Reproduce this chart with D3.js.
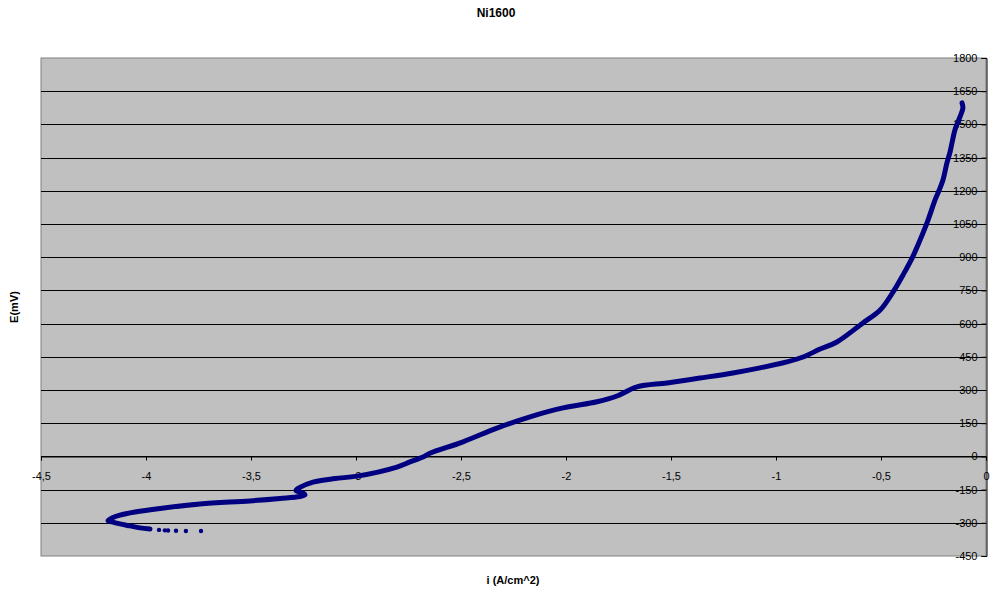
<!DOCTYPE html>
<html>
<head>
<meta charset="utf-8">
<script src="https://cdn.jsdelivr.net/npm/d3@7"></script>
<style>
  body { margin: 0; background: #ffffff; }
  svg { font-family: "Liberation Sans", Arial, sans-serif; }
</style>
</head>
<body>
<div id="chart"></div>
<script>
// current density (log) and potential readings, dense part of the sweep
const curI = [-3.981, -4.029, -4.076, -4.124, -4.162, -4.181, -4.162, -4.124, -4.052, -3.933,
    -3.743, -3.505, -3.362, -3.267, -3.243, -3.252, -3.286, -3.267, -3.205, -3.1,
    -2.995, -2.805, -2.743, -2.681, -2.648, -2.49, -2.329, -2.171, -2.014, -1.852,
    -1.757, -1.662, -1.519, -1.362, -1.205, -1.076, -0.948, -0.871, -0.79, -0.71,
    -0.586, -0.505, -0.443, -0.395, -0.352, -0.314, -0.276, -0.243, -0.222, -0.205,
    -0.186, -0.171, -0.162, -0.148, -0.124, -0.11, -0.114];
const curE = [-328, -323, -314, -305, -296, -290, -278, -265, -251, -235,
    -215, -201, -190, -181, -174, -165, -154, -140, -116, -100,
    -89, -48, -25, -3, 14, 66, 128, 179, 219, 247,
    273, 314, 332, 354, 377, 400, 427, 449, 485, 517,
    603, 660, 742, 820, 896, 978, 1068, 1158, 1205, 1249,
    1326, 1376, 1416, 1475, 1534, 1574, 1597];

// the sparse start of the sweep (separate dots)
const tailI = [-3.738, -3.81, -3.857, -3.895, -3.91, -3.938];
const tailE = [-337, -337, -336, -335, -334, -332];

const xTicks = [-4.5, -4, -3.5, -3, -2.5, -2, -1.5, -1, -0.5, 0];
const yTicks = [-450, -300, -150, 0, 150, 300, 450, 600, 750, 900, 1050, 1200, 1350, 1500, 1650, 1800];

const width = 992;
const height = 596;
const margin = { top: 58, right: 6, bottom: 40, left: 41 };

const svg = d3.select("#chart")
    .append("svg")
    .attr("width", width)
    .attr("height", height);

const xScale = d3.scaleLinear()
    .domain([-4.5, 0])
    .range([margin.left, width - margin.right]);

const yScale = d3.scaleLinear()
    .domain([-450, 1800])
    .range([height - margin.bottom, margin.top]);

//plot background
svg.append("rect")
    .attr("x", xScale(-4.5))
    .attr("y", yScale(1800))
    .attr("width", xScale(0) - xScale(-4.5))
    .attr("height", yScale(-450) - yScale(1800))
    .attr("fill", "#c0c0c0")
    .attr("stroke", "#808080")
    .attr("stroke-width", 1);

//gridlines
svg.append("g")
    .selectAll("line")
    .data(yTicks.filter(function(d) { return d > -450 && d < 1800; }))
    .enter()
    .append("line")
    .attr("x1", xScale(-4.5))
    .attr("x2", xScale(0))
    .attr("y1", function(d) { return Math.round(yScale(d)) + 0.5; })
    .attr("y2", function(d) { return Math.round(yScale(d)) + 0.5; })
    .attr("stroke", "#000")
    .attr("stroke-width", 1);

//x axis, crossing at E = 0
const xAxis = svg.append("g")
    .attr("transform", "translate(0," + (Math.round(yScale(0)) + 0.5) + ")")
    .call(d3.axisBottom(xScale)
        .tickValues(xTicks)
        .tickSize(4)
        .tickPadding(12)
        .tickFormat(function(d) { return String(d).replace(".", ","); }));
xAxis.select(".domain").attr("stroke", "#000");
xAxis.selectAll("line").attr("stroke", "#000");
xAxis.selectAll("text")
    .style("font-size", "11px")
    .style("font-family", "Liberation Sans, Arial, sans-serif")
    .attr("fill", "#000");

//y axis on the right (i = 0)
const yAxis = svg.append("g")
    .attr("transform", "translate(" + (Math.round(xScale(0)) + 0.5) + ",0)")
    .call(d3.axisLeft(yScale)
        .tickValues(yTicks)
        .tickSize(5)
        .tickPadding(4)
        .tickFormat(function(d) { return String(d); }));
yAxis.select(".domain").attr("stroke", "#000");
yAxis.selectAll("line").attr("stroke", "#000");
yAxis.selectAll("text")
    .style("font-size", "11px")
    .style("font-family", "Liberation Sans, Arial, sans-serif")
    .attr("fill", "#000");

//data
const pts = curI.map(function(d, i) { return [d, curE[i]]; });
const tail = tailI.map(function(d, i) { return [d, tailE[i]]; });

const line = d3.line()
    .x(function(d) { return xScale(d[0]); })
    .y(function(d) { return yScale(d[1]); })
    .curve(d3.curveCatmullRom.alpha(0.5));

svg.append("path")
    .datum(pts)
    .attr("d", line)
    .attr("fill", "none")
    .attr("stroke", "#000080")
    .attr("stroke-width", 5)
    .attr("stroke-linejoin", "round")
    .attr("stroke-linecap", "round");

svg.append("g")
    .selectAll("circle")
    .data(tail)
    .enter()
    .append("circle")
    .attr("cx", function(d) { return xScale(d[0]); })
    .attr("cy", function(d) { return yScale(d[1]); })
    .attr("r", 2.2)
    .attr("fill", "#000080");

//titles
svg.append("text")
    .attr("x", 496)
    .attr("y", 17)
    .attr("text-anchor", "middle")
    .attr("font-size", "12px")
    .attr("font-weight", "bold")
    .text("Ni1600");

svg.append("text")
    .attr("x", 513)
    .attr("y", 584)
    .attr("text-anchor", "middle")
    .attr("font-size", "11px")
    .attr("font-weight", "bold")
    .text("i (A/cm^2)");

svg.append("text")
    .attr("transform", "translate(18,307) rotate(-90)")
    .attr("text-anchor", "middle")
    .attr("font-size", "11px")
    .attr("font-weight", "bold")
    .text("E(mV)");
</script>
</body>
</html>
